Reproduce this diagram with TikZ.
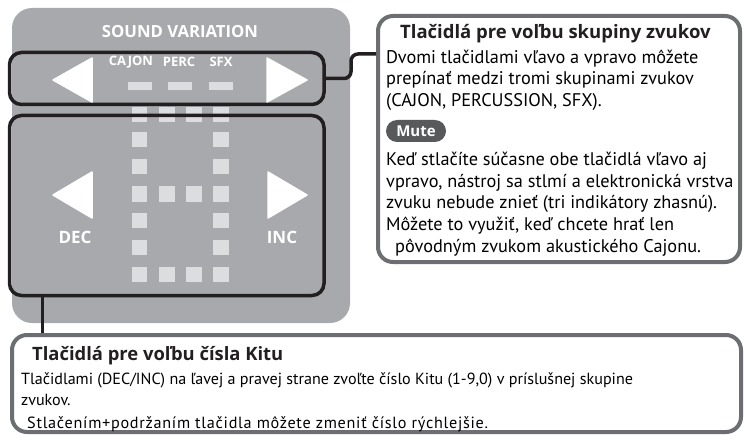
\documentclass[tikz,border=0pt]{standalone}
\usepackage{fontspec}
\setmainfont{PT Sans}
\newfontfamily\boldfam{Open Sans}
\definecolor{panelgray}{HTML}{A7A9AC}
\definecolor{segcol}{HTML}{DCDDDE}
\definecolor{boxblack}{HTML}{231F20}
\definecolor{calloutgray}{HTML}{6D6E71}
\definecolor{mutegray}{HTML}{58595B}
\tikzset{
  panel/.style={fill=panelgray, rounded corners=20pt},
  seg/.style={fill=segcol, draw=none, minimum width=15.5pt, minimum height=15.5pt, inner sep=0pt},
  ind/.style={fill=segcol, draw=none, minimum width=24pt, minimum height=8pt, inner sep=0pt},
  blackbox/.style={draw=boxblack, line width=3.5pt, rounded corners=12pt, inner sep=0pt},
  callout/.style={draw=calloutgray, line width=4pt, rounded corners=15pt, fill=white, inner sep=0pt},
  tri/.style={fill=white, draw=white, line width=1.5pt, line join=round},
  conn/.style={draw=boxblack, line width=3.5pt},
  wlabel/.style={text=white, inner sep=0pt, font=\boldfam\bfseries\fontsize{13}{15}\selectfont},
  wbig/.style={text=white, inner sep=0pt, font=\boldfam\bfseries\fontsize{17}{19}\selectfont},
  body/.style={anchor=base west, inner sep=0pt, font=\fontsize{18.3}{21}\selectfont},
  lbody/.style={anchor=base west, inner sep=0pt, font=\fontsize{16.1}{19}\selectfont},
  ttl/.style={anchor=base west, inner sep=0pt, font=\boldfam\bfseries\fontsize{18.5}{20}\selectfont, text=boxblack},
}
\begin{document}
\begin{tikzpicture}[x=1pt,y=-1pt]
\useasboundingbox (0,0) rectangle (744,441);
% panel
\fill[panel] (12,8) rectangle (350,323);
% seven-segment squares
\foreach \r/\cols in {114.5/{139.5,167,194,221}, 139.5/{139.5,221}, 166.5/{139.5,221}, 194/{139.5,167,194,221}, 220.5/{139.5,221}, 247.5/{139.5,221}, 274.5/{139.5,167,194,221}} {
  \foreach \c in \cols { \node[seg] at (\c,\r) {}; }
}
% indicators
\node[ind] (indA) at (140,86) {};
\node[ind] (indB) at (180,86) {};
\node[ind] (indC) at (221,86) {};
% boxes
\node[blackbox, minimum width=314.5pt, minimum height=52pt] (selbox) at (166.75,78.5) {};
\node[blackbox, minimum width=314.5pt, minimum height=180pt] (numbox) at (166.75,205.5) {};
% triangles
\fill[tri] (53,80) -- (92,58) -- (92,102) -- cycle;
\fill[tri] (307,80) -- (267,58) -- (267,102) -- cycle;
\fill[tri] (53,195) -- (92,172) -- (92,218) -- cycle;
\fill[tri] (307,195) -- (268,172) -- (268,218) -- cycle;
% panel labels
\node[text=white, inner sep=0pt, font=\boldfam\bfseries\fontsize{16.7}{19}\selectfont] (sv) at (180,32) {SOUND VARIATION};
\node[wlabel] (lcajon) at (131,62) {CAJON};
\node[wlabel] (lperc) at (179,62) {PERC};
\node[wlabel] (lsfx) at (221,62) {SFX};
\node[wbig] (ldec) at (75,237) {DEC};
\node[wbig] (linc) at (282,237) {INC};
% callouts
\node[callout, minimum width=362pt, minimum height=246pt] (upcall) at (559,139) {};
\node[callout, minimum width=729pt, minimum height=97pt] (lowcall) at (376.5,383.5) {};
% connectors
\coordinate (bend) at (351,54);
\draw[conn, rounded corners=7pt] (selbox.east) -| (bend) -- (bend -| upcall.west);
\coordinate (kitx) at (42.5,0);
\draw[conn] (numbox.south -| kitx) -- (lowcall.north -| kitx);
% upper callout text
\node[ttl] (t1) at (400,38.5) {Tlačidlá pre voľbu skupiny zvukov};
\node[body] (u1) at (386,63.5) {Dvomi tlačidlami vľavo a vpravo môžete};
\node[body] (u2) at (386,85) {prepínať medzi tromi skupinami zvukov};
\node[body] (u3) at (386,106.5) {(CAJON, PERCUSSION, SFX).};
\node[fill=mutegray, rounded corners=11pt, minimum width=60pt, minimum height=22pt, inner sep=0pt, text=white, font=\boldfam\bfseries\fontsize{15}{17}\selectfont] (mute) at (416,131) {Mute};
\node[body] (u4) at (386,165.5) {Keď stlačíte súčasne obe tlačidlá vľavo aj};
\node[body] (u5) at (386,187) {vpravo, nástroj sa stlmí a elektronická vrstva};
\node[body] (u6) at (386,208.5) {zvuku nebude znieť (tri indikátory zhasnú).};
\node[body] (u7) at (386,230) {Môžete to využiť, keď chcete hrať len};
\node[body] (u8) at (395,252) {pôvodným zvukom akustického Cajonu.};
% lower callout text
\node[ttl, font=\boldfam\bfseries\fontsize{18.4}{20}\selectfont] (t2) at (32,360) {Tlačidlá pre voľbu čísla Kitu};
\node[lbody] (l1) at (21,384) {Tlačidlami (DEC/INC) na ľavej a pravej strane zvoľte číslo Kitu (1-9,0) v príslušnej skupine};
\node[lbody] (l2) at (21,405.5) {zvukov.};
\node[lbody, font=\fontsize{16.2}{19}\selectfont\addfontfeature{LetterSpace=4.5}] (l3) at (27,428) {Stlačením+podržaním tlačidla môžete zmeniť číslo rýchlejšie.};
\end{tikzpicture}
\end{document}
